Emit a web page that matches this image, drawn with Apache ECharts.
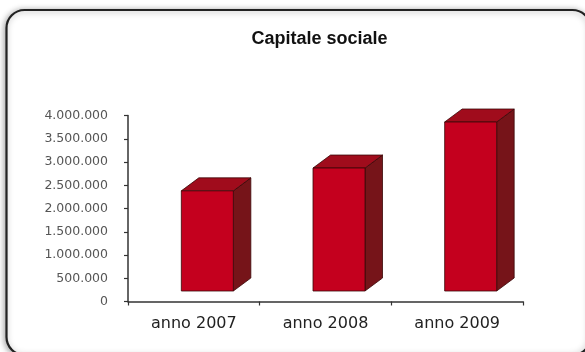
<!DOCTYPE html>
<html>
<head>
<meta charset="utf-8">
<script src="https://cdn.jsdelivr.net/npm/echarts@6/dist/echarts.min.js"></script>
<style>html,body{margin:0;padding:0;background:#fff;}#c{width:585px;height:352px;}</style>
</head>
<body>
<div id="c"></div>
<script>
const categories = ['anno 2007', 'anno 2008', 'anno 2009'];
const values = [2380000, 2870000, 3860000];
const yTicks = [0, 500000, 1000000, 1500000, 2000000, 2500000, 3000000, 3500000, 4000000];
const titleText = 'Capitale sociale';

function fmt(v) {
  return String(v).replace(/\B(?=(\d{3})+(?!\d))/g, '.');
}

const chart = echarts.init(document.getElementById('c'), null, {renderer: 'canvas'});

const FRONT = '#C4001E', TOP = '#A00C1C', SIDE = '#761419', EDGE = '#3a0808';
const DX = 17.5, DY = -13, LIFT = 10.5, LEFT_OFF = -12.5, FW = 52;

chart.setOption({
  animation: false,
  backgroundColor: '#fff',
  graphic: [
    {
      type: 'rect', z: -10,
      shape: {x: 6.5, y: 10, width: 584, height: 345, r: 18},
      style: {fill: '#fff', stroke: '#222', lineWidth: 2.2,
        shadowBlur: 6, shadowColor: 'rgba(0,0,0,0.35)', shadowOffsetX: -1, shadowOffsetY: 1}
    },
    {
      type: 'text', z: 10,
      style: {x: 319.5, y: 39.5, text: titleText, textAlign: 'center', textVerticalAlign: 'middle',
        font: 'bold 18px "Liberation Sans", Arial, sans-serif', fill: '#111'}
    }
  ],
  grid: {left: 128, right: 62, top: 115.5, bottom: 50.5, containLabel: false},
  xAxis: {
    type: 'category', data: categories,
    axisLine: {lineStyle: {color: '#333', width: 1.5}},
    axisTick: {show: true, length: 4, lineStyle: {color: '#333', width: 1.2}},
    axisLabel: {color: '#222', fontFamily: '"DejaVu Sans", sans-serif', fontSize: 16, margin: 14}
  },
  yAxis: {
    type: 'value', min: 0, max: 4000000, interval: 500000,
    axisLine: {show: true, lineStyle: {color: '#333', width: 1.5}},
    axisTick: {show: true, length: 4, lineStyle: {color: '#333', width: 1.2}},
    splitLine: {show: false},
    axisLabel: {color: '#555', fontFamily: '"DejaVu Sans", sans-serif', fontSize: 12.5, margin: 20,
      formatter: v => yTicks.indexOf(v) >= 0 ? fmt(v) : ''}
  },
  series: [{
    type: 'custom',
    data: values.map((v, i) => [i, v]),
    renderItem: function (params, api) {
      const top = api.coord([api.value(0), api.value(1)]);
      const base = api.coord([api.value(0), 0]);
      const x0 = top[0] + LEFT_OFF, x1 = x0 + FW;
      const yT = top[1], yB = base[1] - LIFT;
      const st = (f) => ({fill: f, stroke: EDGE, lineWidth: 0.8, lineJoin: 'round'});
      return {
        type: 'group',
        children: [
          {type: 'polygon', shape: {points: [[x1, yT], [x1 + DX, yT + DY], [x1 + DX, yB + DY], [x1, yB]]}, style: st(SIDE)},
          {type: 'polygon', shape: {points: [[x0, yT], [x0 + DX, yT + DY], [x1 + DX, yT + DY], [x1, yT]]}, style: st(TOP)},
          {type: 'rect', shape: {x: x0, y: yT, width: FW, height: yB - yT}, style: st(FRONT)}
        ]
      };
    }
  }]
});
</script>
</body>
</html>
